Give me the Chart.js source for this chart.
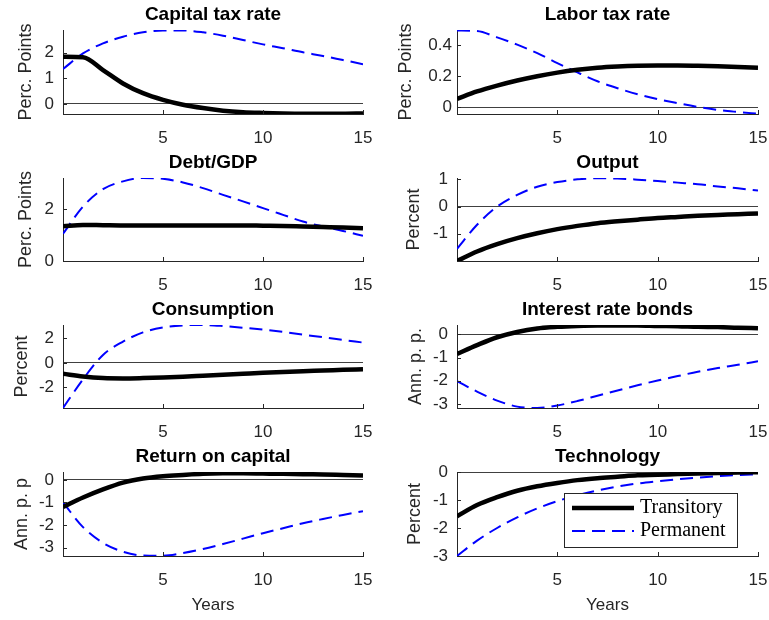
<!DOCTYPE html>
<html><head><meta charset="utf-8">
<script src="https://cdn.jsdelivr.net/npm/chart.js@4.4.1/dist/chart.umd.min.js"></script>
<style>
html,body{margin:0;padding:0;background:#fff;}
#fig{position:relative;width:769px;height:620px;overflow:hidden;background:#fff;}
#fig canvas{position:absolute;}
</style></head><body><div id="fig"></div>
<script>
// ---------- data ----------
const years = [0,1,2,3,4,5,6,7,8,9,10,11,12,13,14,15];
const seriesNames = ['Transitory', 'Permanent'];
const xTickValues = [5, 10, 15];
const xAxisTitle = 'Years';

const panelTitles = ['Capital tax rate','Labor tax rate','Debt/GDP','Output','Consumption','Interest rate bonds','Return on capital','Technology'];
const yAxisLabels = ['Perc. Points','Perc. Points','Perc. Points','Percent','Percent','Ann. p. p.','Ann. p. p','Percent'];

const capitalTaxTransitory = [1.84,1.82,1.32,0.80,0.42,0.16,-0.03,-0.16,-0.26,-0.32,-0.35,-0.37,-0.38,-0.38,-0.38,-0.37];
const capitalTaxPermanent  = [1.36,1.97,2.36,2.62,2.79,2.86,2.86,2.79,2.66,2.49,2.32,2.17,2.01,1.87,1.71,1.55];
const laborTaxTransitory   = [0.054,0.102,0.140,0.173,0.201,0.224,0.242,0.255,0.263,0.268,0.270,0.270,0.268,0.265,0.261,0.256];
const laborTaxPermanent    = [0.497,0.493,0.452,0.405,0.350,0.286,0.225,0.168,0.123,0.084,0.052,0.026,0.002,-0.018,-0.031,-0.042];
const debtTransitory       = [1.34,1.39,1.38,1.37,1.37,1.37,1.37,1.37,1.37,1.37,1.36,1.35,1.33,1.31,1.29,1.26];
const debtPermanent        = [1.05,2.10,2.77,3.07,3.20,3.17,3.03,2.81,2.55,2.30,2.04,1.78,1.52,1.33,1.16,0.97];
const outputTransitory     = [-2.00,-1.65,-1.38,-1.16,-0.98,-0.83,-0.71,-0.61,-0.54,-0.48,-0.42,-0.38,-0.34,-0.31,-0.28,-0.25];
const outputPermanent      = [-1.55,-0.67,0.00,0.43,0.73,0.90,1.00,1.04,1.03,0.99,0.94,0.88,0.82,0.74,0.67,0.59];
const consumptionTransitory= [-0.90,-1.12,-1.25,-1.28,-1.25,-1.20,-1.14,-1.06,-0.98,-0.90,-0.82,-0.75,-0.68,-0.63,-0.57,-0.52];
const consumptionPermanent = [-3.70,-1.35,0.65,1.74,2.50,2.90,3.07,3.10,3.02,2.88,2.72,2.53,2.31,2.10,1.88,1.66];
const interestTransitory   = [-0.84,-0.46,-0.12,0.11,0.26,0.33,0.37,0.39,0.39,0.39,0.37,0.36,0.33,0.32,0.29,0.27];
const interestPermanent    = [-2.02,-2.47,-2.86,-3.12,-3.18,-3.07,-2.88,-2.65,-2.42,-2.20,-1.99,-1.80,-1.61,-1.45,-1.31,-1.16];
const returnTransitory     = [-1.20,-0.78,-0.42,-0.12,0.06,0.16,0.22,0.27,0.29,0.29,0.28,0.27,0.25,0.24,0.22,0.20];
const returnPermanent      = [-1.00,-2.09,-2.79,-3.18,-3.35,-3.36,-3.24,-3.06,-2.84,-2.60,-2.36,-2.14,-1.92,-1.73,-1.55,-1.39];
const technologyTransitory = [-1.58,-1.18,-0.90,-0.67,-0.51,-0.39,-0.29,-0.22,-0.17,-0.12,-0.10,-0.07,-0.05,-0.04,-0.02,-0.01];
const technologyPermanent  = [-3.00,-2.45,-2.00,-1.62,-1.30,-1.04,-0.83,-0.66,-0.52,-0.41,-0.33,-0.26,-0.20,-0.15,-0.11,-0.08];

const capitalTaxTicks  = [0, 1, 2];
const laborTaxTicks    = [0, 0.2, 0.4];
const debtTicks        = [0, 2];
const outputTicks      = [-1, 0, 1];
const consumptionTicks = [-2, 0, 2];
const interestTicks    = [-3, -2, -1, 0];
const returnTicks      = [-3, -2, -1, 0];
const technologyTicks  = [-3, -2, -1, 0];

const yLimits = [[-0.39,2.88],[-0.044,0.5],[0,3.2],[-2.0,1.05],[-3.7,3.1],[-3.18,0.41],[-3.37,0.35],[-3,0]];

// ---------- layout ----------
const SANS = "'Liberation Sans', Arial, Helvetica, sans-serif";
const SERIF = "'Liberation Serif', 'Times New Roman', serif";
const AX = '#262626';
const colLeft = [0, 384], colWidth = [384, 385], yAxisW = [63, 73], rightPad = [21, 11];
const rowTop = [0, 148, 295, 442], rowH = [148, 147, 147, 178], xAxisH = [34, 34, 34, 64];
const yTitleCenter = [26, 21.7, 26, 30, 21.7, 31.7, 21.7, 30.7];
const yTickPad = [9, 5, 9, 9, 9, 9, 9, 9];

const panels = [
  [capitalTaxTransitory, capitalTaxPermanent, capitalTaxTicks],
  [laborTaxTransitory, laborTaxPermanent, laborTaxTicks],
  [debtTransitory, debtPermanent, debtTicks],
  [outputTransitory, outputPermanent, outputTicks],
  [consumptionTransitory, consumptionPermanent, consumptionTicks],
  [interestTransitory, interestPermanent, interestTicks],
  [returnTransitory, returnPermanent, returnTicks],
  [technologyTransitory, technologyPermanent, technologyTicks]
];

const inwardTicks = {
  id: 'inwardTicks',
  afterDatasetsDraw(chart) {
    const {ctx, chartArea: a, scales: {x, y}} = chart;
    ctx.save();
    ctx.strokeStyle = AX; ctx.lineWidth = 1;
    ctx.beginPath();
    x.ticks.forEach(t => { const px = Math.round(x.getPixelForValue(t.value)) + 0.5; ctx.moveTo(px, a.bottom); ctx.lineTo(px, a.bottom - 4); });
    y.ticks.forEach(t => { const py = Math.round(y.getPixelForValue(t.value)) + 0.5; ctx.moveTo(a.left, py); ctx.lineTo(a.left + 4, py); });
    ctx.stroke();
    ctx.restore();
  }
};

const insideLegend = {
  id: 'insideLegend',
  afterDraw(chart, args, opts) {
    if (!opts || !opts.show) return;
    const {ctx, chartArea: a} = chart;
    const bw = 173, bh = 54;
    const bx = a.right - 21 - bw, by = a.bottom - 9 - bh;
    ctx.save();
    ctx.fillStyle = '#fff';
    ctx.fillRect(bx, by, bw, bh);
    ctx.strokeStyle = AX; ctx.lineWidth = 1;
    ctx.strokeRect(Math.round(bx) + 0.5, Math.round(by) + 0.5, bw, bh);
    const rows = [15, 38];
    chart.data.datasets.forEach((ds, i) => {
      const yy = by + rows[i];
      ctx.beginPath();
      ctx.strokeStyle = ds.borderColor; ctx.lineWidth = ds.borderWidth;
      ctx.setLineDash(ds.borderDash || []);
      ctx.moveTo(bx + 8, yy); ctx.lineTo(bx + 70, yy);
      ctx.stroke();
      ctx.setLineDash([]);
      ctx.fillStyle = '#000';
      ctx.font = '20px ' + SERIF;
      ctx.textBaseline = 'middle'; ctx.textAlign = 'left';
      ctx.fillText(ds.label, bx + 76, yy);
    });
    ctx.restore();
  }
};

const fig = document.getElementById('fig');
panels.forEach((p, i) => {
  const col = i % 2, row = Math.floor(i / 2);
  const cv = document.createElement('canvas');
  cv.width = colWidth[col]; cv.height = rowH[row];
  cv.style.left = colLeft[col] + 'px'; cv.style.top = rowTop[row] + 'px';
  cv.style.width = colWidth[col] + 'px'; cv.style.height = rowH[row] + 'px';
  fig.appendChild(cv);
  const isBottom = row === 3;
  new Chart(cv, {
    type: 'line',
    data: {
      datasets: [
        { label: seriesNames[0], data: years.map((x, k) => ({x, y: p[0][k]})), borderColor: '#000', borderWidth: 4.5, pointRadius: 0, cubicInterpolationMode: 'monotone', fill: false, borderCapStyle: 'butt' },
        { label: seriesNames[1], data: years.map((x, k) => ({x, y: p[1][k]})), borderColor: '#0000ff', borderWidth: 2, borderDash: [13, 7], pointRadius: 0, cubicInterpolationMode: 'monotone', fill: false }
      ]
    },
    options: {
      responsive: false, animation: false, devicePixelRatio: 1,
      layout: { padding: { left: 0, right: rightPad[col], top: 0, bottom: 0 } },
      plugins: {
        legend: { display: false }, tooltip: { enabled: false }, title: { display: false },
        insideLegend: { show: i === 7 }
      },
      scales: {
        x: {
          type: 'linear', min: 0, max: 15,
          afterBuildTicks: s => { s.ticks = xTickValues.map(v => ({ value: v })); },
          afterFit: s => { s.height = xAxisH[row]; s.paddingLeft = 0; s.paddingRight = 0; },
          ticks: { color: AX, font: { family: SANS, size: 17 }, padding: 14, maxRotation: 0, callback: v => String(v) },
          grid: { display: false, drawTicks: false },
          border: { display: true, color: AX, width: 1 },
          title: { display: isBottom, text: xAxisTitle, color: AX, font: { family: SANS, size: 17, lineHeight: 1.2 }, padding: { top: 0, bottom: 4.8 } }
        },
        titleAxis: {
          axis: 'x', position: 'top', type: 'linear', min: 0, max: 15,
          afterFit: s => { s.height = 30; s.paddingLeft = 0; s.paddingRight = 0; },
          ticks: { display: false },
          grid: { display: false, drawTicks: false },
          border: { display: false },
          title: { display: true, text: panelTitles[i], color: '#000', font: { family: SANS, size: 19, weight: 'bold', lineHeight: 1.2 }, padding: { top: 3.6, bottom: 0 } }
        },
        y: {
          type: 'linear', min: yLimits[i][0], max: yLimits[i][1],
          afterBuildTicks: s => { s.ticks = p[2].map(v => ({ value: v })); },
          afterFit: s => { s.width = yAxisW[col]; s.paddingTop = 0; s.paddingBottom = 0; },
          ticks: { color: AX, font: { family: SANS, size: 17 }, padding: yTickPad[i], callback: v => String(v) },
          grid: { display: true, drawTicks: false, lineWidth: 1, color: c => (c.tick && c.tick.value === 0) ? '#404040' : 'rgba(0,0,0,0)' },
          border: { display: true, color: AX, width: 1 },
          title: { display: true, text: yAxisLabels[i], color: AX, font: { family: SANS, size: 18, lineHeight: 1.2 }, padding: { top: yTitleCenter[i] - 10.8, bottom: 0 } }
        }
      }
    },
    plugins: [inwardTicks, insideLegend]
  });
});
</script>
</body></html>
